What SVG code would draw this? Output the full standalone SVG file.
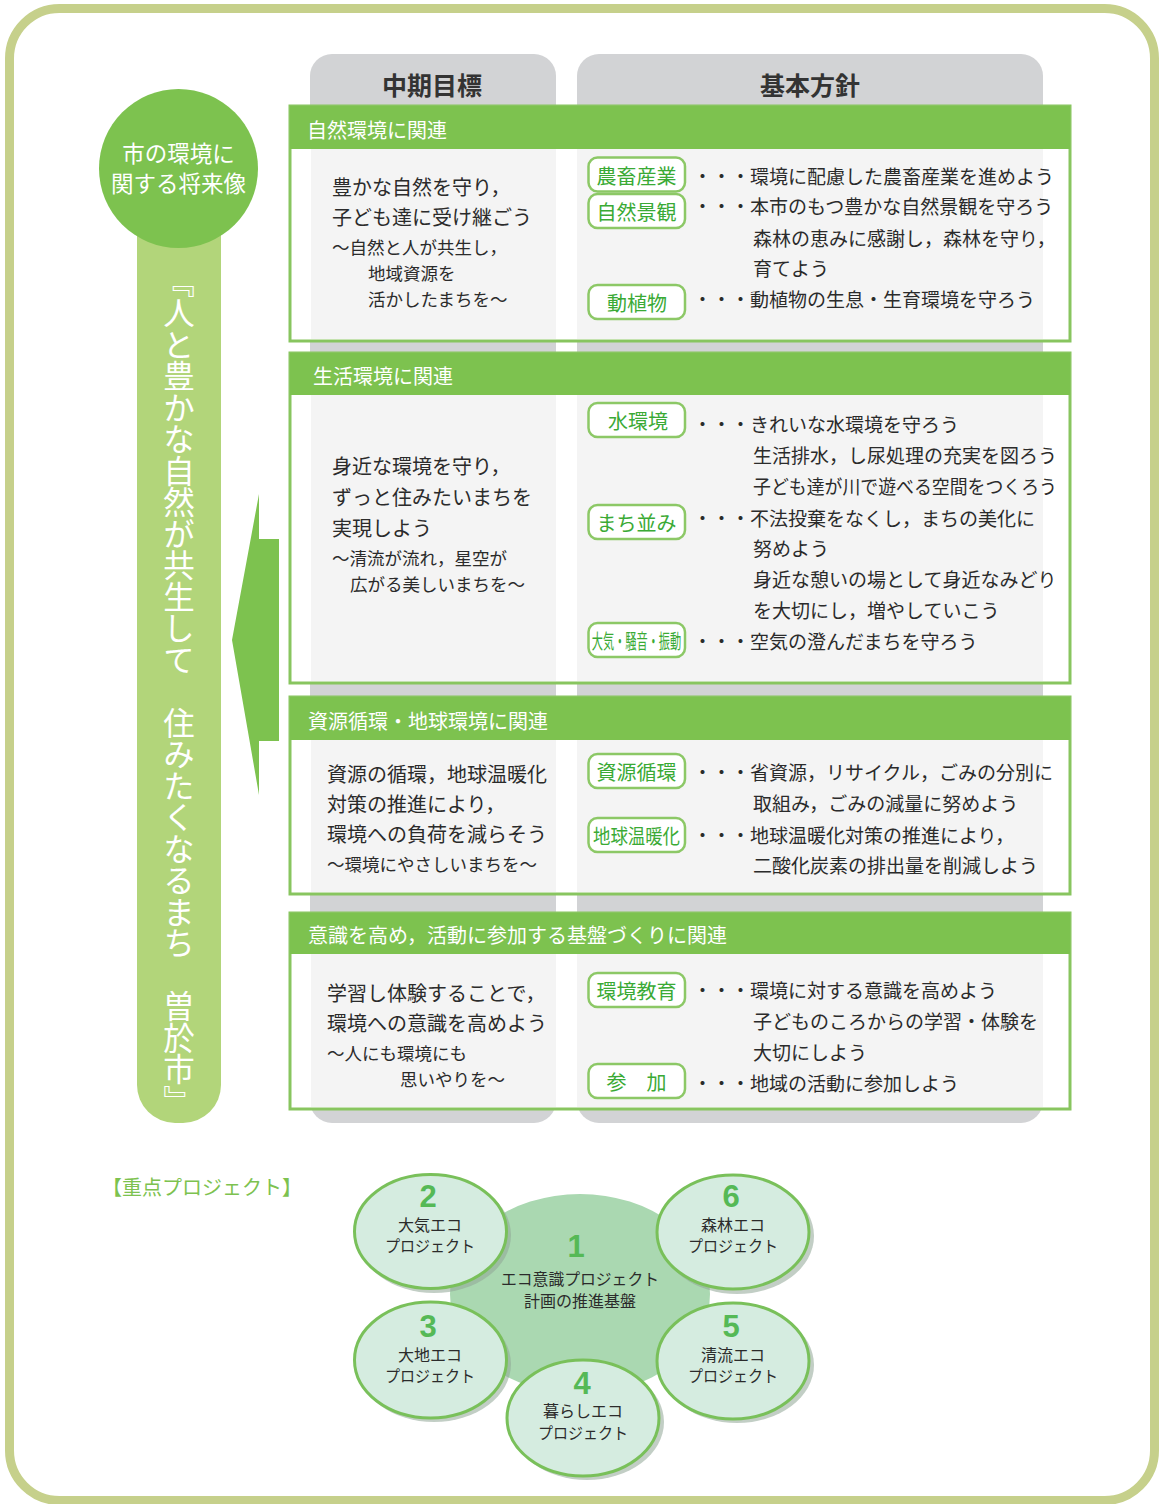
<svg xmlns="http://www.w3.org/2000/svg" width="1159" height="1504" viewBox="0 0 1159 1504">
<style>
text{font-family:"Noto Sans CJK JP","Noto Sans CJK SC",sans-serif;dominant-baseline:central}
.col{fill:#d2d3d5}
.colin{fill:#f4f4f4}
.pbody{fill:#fff;stroke:#88c55f;stroke-width:3}
.phead{fill:#7dc24f}
.htxt{font-size:20px;fill:#fff}
.body{font-size:20px;fill:#2b2b2b}
.small{font-size:17.5px;fill:#2b2b2b}
.rt{font-size:19px;fill:#2b2b2b}
.lb{fill:#fff;stroke:#8cc866;stroke-width:2.5}
.lt{font-size:20px;fill:#3aaa35;text-anchor:middle}
.sm{fill:#d5ece0;stroke:#79c05a;stroke-width:3}
.sh{fill:#8fa596;opacity:0.55}
.num{font-size:31px;font-weight:bold;fill:#55b956;text-anchor:middle;font-family:"Liberation Sans",Arial,sans-serif;dominant-baseline:auto}
.pt{font-size:16px;fill:#2b2b2b;text-anchor:middle}
</style>

<rect x="9.5" y="8.5" width="1145" height="1492" rx="50" fill="#fff" stroke="#c6d08b" stroke-width="9"/>

<g id="vision">
<path d="M137,200 H221 V1085 A38,38 0 0 1 183,1123 H175 A38,38 0 0 1 137,1085 Z" fill="#b2d57a"/>
<circle cx="178.5" cy="168.5" r="79.5" fill="#7dc24f"/>
<text x="178.5" y="152" font-size="22.5" fill="#fff" text-anchor="middle">市の環境に</text>
<text x="178.5" y="182" font-size="22.5" fill="#fff" text-anchor="middle">関する将来像</text>
<text x="179" y="266" font-size="31.5" fill="#fff" style="writing-mode:vertical-rl">『人と豊かな自然が共生して　住みたくなるまち　曽於市』</text>
</g>

<g id="columns">
<rect class="col" x="310" y="54" width="246" height="1069" rx="22"/>
<rect class="col" x="577" y="54" width="466" height="1069" rx="22"/>
<text x="432" y="84" font-size="25" font-weight="bold" fill="#333" text-anchor="middle">中期目標</text>
<text x="810" y="84" font-size="25" font-weight="bold" fill="#333" text-anchor="middle">基本方針</text>
</g>

<g id="arrow">
<polygon points="259,494 259,539 279,539 279,741 259,741 259,795 232,640" fill="#7dc24f"/>
</g>

<g id="panel1">
<rect class="pbody" x="290" y="106" width="780" height="235"/>
<rect class="colin" x="311" y="149" width="245" height="190"/>
<rect class="colin" x="577" y="149" width="466" height="190"/>
<rect class="phead" x="290" y="106" width="780" height="43"/>
<text class="htxt" x="307" y="129">自然環境に関連</text>
<text class="body" x="332" y="186">豊かな自然を守り，</text>
<text class="body" x="332" y="216">子ども達に受け継ごう</text>
<text class="small" x="332" y="246">～自然と人が共生し，</text>
<text class="small" x="368" y="272">地域資源を</text>
<text class="small" x="368" y="298">活かしたまちを～</text>
<rect class="lb" x="588.5" y="157.5" width="96.5" height="34" rx="9"/>
<text class="lt" x="636.5" y="175">農畜産業</text>
<rect class="lb" x="588.5" y="194" width="96.5" height="34" rx="9"/>
<text class="lt" x="636.5" y="211">自然景観</text>
<rect class="lb" x="588.5" y="285" width="96.5" height="34" rx="9"/>
<text class="lt" x="637" y="302">動植物</text>
<text class="rt" x="693" y="175">・・・環境に配慮した農畜産業を進めよう</text>
<text class="rt" x="693" y="205">・・・本市のもつ豊かな自然景観を守ろう</text>
<text class="rt" x="753" y="237">森林の恵みに感謝し，森林を守り，</text>
<text class="rt" x="753" y="267">育てよう</text>
<text class="rt" x="693" y="298">・・・動植物の生息・生育環境を守ろう</text>
</g>

<g id="panel2">
<rect class="pbody" x="290" y="353" width="780" height="330"/>
<rect class="colin" x="311" y="395" width="245" height="286"/>
<rect class="colin" x="577" y="395" width="466" height="286"/>
<rect class="phead" x="290" y="353" width="780" height="42"/>
<text class="htxt" x="313" y="375">生活環境に関連</text>
<text class="body" x="332" y="465">身近な環境を守り，</text>
<text class="body" x="332" y="496">ずっと住みたいまちを</text>
<text class="body" x="332" y="527">実現しよう</text>
<text class="small" x="332" y="557">～清流が流れ，星空が</text>
<text class="small" x="350" y="583">広がる美しいまちを～</text>
<rect class="lb" x="588.5" y="403" width="96.5" height="34" rx="9"/>
<text class="lt" x="638" y="420">水環境</text>
<rect class="lb" x="588.5" y="505" width="96.5" height="34" rx="9"/>
<text class="lt" x="636.5" y="522">まち並み</text>
<rect class="lb" x="588.5" y="623" width="96.5" height="34" rx="9"/>
<text class="lt" transform="translate(636.5,640) scale(0.56,1)" x="0" y="0">大気・騒音・振動</text>
<text class="rt" x="693" y="423">・・・きれいな水環境を守ろう</text>
<text class="rt" x="753" y="454">生活排水，し尿処理の充実を図ろう</text>
<text class="rt" x="753" y="485" textLength="304" lengthAdjust="spacingAndGlyphs">子ども達が川で遊べる空間をつくろう</text>
<text class="rt" x="693" y="517">・・・不法投棄をなくし，まちの美化に</text>
<text class="rt" x="753" y="547">努めよう</text>
<text class="rt" x="753" y="578">身近な憩いの場として身近なみどり</text>
<text class="rt" x="753" y="609">を大切にし，増やしていこう</text>
<text class="rt" x="693" y="640">・・・空気の澄んだまちを守ろう</text>
</g>

<g id="panel3">
<rect class="pbody" x="290" y="697" width="780" height="197"/>
<rect class="colin" x="311" y="740" width="245" height="152"/>
<rect class="colin" x="577" y="740" width="466" height="152"/>
<rect class="phead" x="290" y="697" width="780" height="43"/>
<text class="htxt" x="308" y="720">資源循環・地球環境に関連</text>
<text class="body" x="327" y="773">資源の循環，地球温暖化</text>
<text class="body" x="327" y="803">対策の推進により，</text>
<text class="body" x="327" y="833">環境への負荷を減らそう</text>
<text class="small" x="327" y="863">～環境にやさしいまちを～</text>
<rect class="lb" x="588.5" y="754" width="96.5" height="34" rx="9"/>
<text class="lt" x="636.5" y="771">資源循環</text>
<rect class="lb" x="588.5" y="818" width="96.5" height="34" rx="9"/>
<text class="lt" transform="translate(636.5,835) scale(0.87,1)" x="0" y="0">地球温暖化</text>
<text class="rt" x="693" y="771">・・・省資源，リサイクル，ごみの分別に</text>
<text class="rt" x="753" y="802">取組み，ごみの減量に努めよう</text>
<text class="rt" x="693" y="834">・・・地球温暖化対策の推進により，</text>
<text class="rt" x="753" y="864">二酸化炭素の排出量を削減しよう</text>
</g>

<g id="panel4">
<rect class="pbody" x="290" y="913" width="780" height="196"/>
<rect class="colin" x="311" y="954" width="245" height="153"/>
<rect class="colin" x="577" y="954" width="466" height="153"/>
<rect class="phead" x="290" y="913" width="780" height="41"/>
<text class="htxt" x="308" y="934">意識を高め，活動に参加する基盤づくりに関連</text>
<text class="body" x="327" y="992">学習し体験することで，</text>
<text class="body" x="327" y="1022">環境への意識を高めよう</text>
<text class="small" x="327" y="1052">～人にも環境にも</text>
<text class="small" x="400" y="1078">思いやりを～</text>
<rect class="lb" x="588.5" y="973" width="96.5" height="34" rx="9"/>
<text class="lt" x="636.5" y="990">環境教育</text>
<rect class="lb" x="588.5" y="1064" width="96.5" height="34" rx="9"/>
<text class="lt" x="636.5" y="1081">参　加</text>
<text class="rt" x="693" y="989">・・・環境に対する意識を高めよう</text>
<text class="rt" x="753" y="1020">子どものころからの学習・体験を</text>
<text class="rt" x="753" y="1051">大切にしよう</text>
<text class="rt" x="693" y="1082">・・・地域の活動に参加しよう</text>
</g>

<text x="102" y="1186" font-size="20" fill="#7dc24f">【重点プロジェクト】</text>

<g id="p1">
<ellipse cx="580" cy="1294" rx="130" ry="100" fill="#aad8b1"/>
<text class="num" x="576" y="1257">1</text>
<text class="pt" x="580" y="1278" textLength="158" lengthAdjust="spacingAndGlyphs">エコ意識プロジェクト</text>
<text class="pt" x="580" y="1300">計画の推進基盤</text>
</g>
<g id="p2">
<ellipse class="sh" cx="434" cy="1235" rx="77" ry="58"/>
<ellipse class="sm" cx="430.5" cy="1231.5" rx="76" ry="57"/>
<text class="num" x="428" y="1207">2</text>
<text class="pt" x="430" y="1224">大気エコ</text>
<text class="pt" x="430" y="1245" textLength="90" lengthAdjust="spacingAndGlyphs">プロジェクト</text>
</g>
<g id="p6">
<ellipse class="sh" cx="737" cy="1236" rx="77" ry="58"/>
<ellipse class="sm" cx="733" cy="1232" rx="76" ry="57"/>
<text class="num" x="731" y="1207">6</text>
<text class="pt" x="733" y="1224">森林エコ</text>
<text class="pt" x="733" y="1245" textLength="90" lengthAdjust="spacingAndGlyphs">プロジェクト</text>
</g>
<g id="p3">
<ellipse class="sh" cx="434" cy="1364" rx="77" ry="58"/>
<ellipse class="sm" cx="430.5" cy="1360" rx="76" ry="58"/>
<text class="num" x="428" y="1337">3</text>
<text class="pt" x="430" y="1354">大地エコ</text>
<text class="pt" x="430" y="1375" textLength="90" lengthAdjust="spacingAndGlyphs">プロジェクト</text>
</g>
<g id="p5">
<ellipse class="sh" cx="737" cy="1365" rx="77" ry="58"/>
<ellipse class="sm" cx="733" cy="1361" rx="76" ry="58"/>
<text class="num" x="731" y="1337">5</text>
<text class="pt" x="733" y="1354">清流エコ</text>
<text class="pt" x="733" y="1375" textLength="90" lengthAdjust="spacingAndGlyphs">プロジェクト</text>
</g>
<g id="p4">
<ellipse class="sh" cx="587" cy="1422" rx="77" ry="58"/>
<ellipse class="sm" cx="583" cy="1418" rx="76" ry="58"/>
<text class="num" x="582" y="1394">4</text>
<text class="pt" x="583" y="1410">暮らしエコ</text>
<text class="pt" x="583" y="1432" textLength="90" lengthAdjust="spacingAndGlyphs">プロジェクト</text>
</g>
</svg>
